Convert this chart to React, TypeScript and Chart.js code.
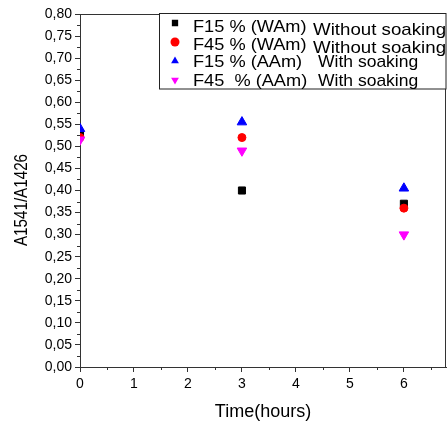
import React, { useEffect, useRef } from 'react';
import { Chart, registerables } from 'chart.js';
Chart.register(...registerables);

const timePoints = [0, 3, 6];
const f15WAm = [0.53, 0.40, 0.37];
const f45WAm = [0.52, 0.52, 0.36];
const f15AAm = [0.54, 0.555, 0.405];
const f45AAm = [0.515, 0.49, 0.30];
const legendMain = ['F15 % (WAm)', 'F45 % (WAm)', 'F15 % (AAm)', 'F45  % (AAm)'];
const legendSub = ['Without soaking', 'Without soaking', 'With soaking', 'With soaking'];
const yTitle = 'A1541/A1426';
const xTitle = 'Time(hours)';
const seriesColors = ['#000000', '#ff0000', '#0000ff', '#ff00ff'];
const seriesStyles = ['rect', 'circle', 'triangle', 'triangle'];
const seriesRot = [0, 0, 0, 180];
const seriesRadius = [5, 4, 5.5, 5.5];

const FONT = '"Liberation Sans", Arial, sans-serif';

const toPts = (ys: number[]) => timePoints.map((x, i) => ({ x, y: ys[i] }));

function marker(ctx: CanvasRenderingContext2D, i: number, x: number, y: number, r: number) {
  ctx.fillStyle = seriesColors[i];
  ctx.beginPath();
  if (i === 0) {
    ctx.rect(x - r * 0.7, y - r * 0.7, r * 1.4, r * 1.4);
  } else if (i === 1) {
    ctx.arc(x, y, r, 0, Math.PI * 2);
  } else if (i === 2) {
    ctx.moveTo(x, y - r);
    ctx.lineTo(x + r * 0.866, y + r * 0.5);
    ctx.lineTo(x - r * 0.866, y + r * 0.5);
    ctx.closePath();
  } else {
    ctx.moveTo(x, y + r);
    ctx.lineTo(x + r * 0.866, y - r * 0.5);
    ctx.lineTo(x - r * 0.866, y - r * 0.5);
    ctx.closePath();
  }
  ctx.fill();
}

function stretchedText(ctx: CanvasRenderingContext2D, text: string, x: number, y: number, sx: number) {
  ctx.save();
  ctx.translate(x, y);
  ctx.scale(sx, 1);
  ctx.fillText(text, 0, 0);
  ctx.restore();
}

const framePlugin = {
  id: 'frameAndLegend',
  afterDraw(chart: any) {
    const ctx = chart.ctx;
    const { left, right, top, bottom } = chart.chartArea;
    const xs = chart.scales.x;
    const ys = chart.scales.y;
    ctx.save();
    ctx.strokeStyle = '#333';
    ctx.lineWidth = 1;
    ctx.beginPath();
    ctx.moveTo(left, top + 0.5);
    ctx.lineTo(right - 0.5, top + 0.5);
    ctx.lineTo(right - 0.5, bottom);
    ctx.stroke();
    ctx.beginPath();
    for (let k = 0; k < 16; k++) {
      const v = 0.025 + 0.05 * k;
      const py = Math.round(ys.getPixelForValue(v)) + 0.5;
      ctx.moveTo(left - 3, py);
      ctx.lineTo(left, py);
    }
    for (let k = 0; k < 7; k++) {
      const v = 0.5 + k;
      const px = Math.round(xs.getPixelForValue(v)) + 0.5;
      ctx.moveTo(px, bottom);
      ctx.lineTo(px, bottom + 3);
    }
    ctx.stroke();

    ctx.save();
    ctx.fillStyle = '#000';
    ctx.font = `16px ${FONT}`;
    ctx.textAlign = 'center';
    ctx.textBaseline = 'middle';
    ctx.translate(22, 200);
    ctx.rotate(-Math.PI / 2);
    ctx.scale(0.95, 1.2);
    ctx.fillText(yTitle, 0, 0);
    ctx.restore();

    const bx = 159.5, by = 13.5, bw = 446 - 159.5, bh = 89 - 13.5;
    ctx.fillStyle = '#fff';
    ctx.fillRect(bx, by, bw, bh);
    ctx.strokeStyle = '#222';
    ctx.strokeRect(bx, by, bw, bh);
    const rowsY = [23, 42, 61, 80];
    const mainBase = [32, 50, 67, 86];
    const subBase = [35, 53, 67, 86];
    const subX = [313, 313, 318, 318];
    const subScale = [1.1, 1.1, 1.03, 1.03];
    ctx.beginPath();
    ctx.rect(bx, by, bw, bh);
    ctx.clip();
    for (let i = 0; i < 4; i++) {
      marker(ctx, i, 175, rowsY[i], 4.5);
      ctx.fillStyle = '#000';
      ctx.font = `17px ${FONT}`;
      ctx.textBaseline = 'alphabetic';
      ctx.textAlign = 'left';
      stretchedText(ctx, legendMain[i], 193, mainBase[i], 1.07);
      stretchedText(ctx, legendSub[i], subX[i], subBase[i], subScale[i]);
    }
    ctx.restore();
  },
};

export default function App() {
  const ref = useRef<HTMLCanvasElement>(null);
  useEffect(() => {
    if (!ref.current) return;
    const datasets = [f15WAm, f45WAm, f15AAm, f45AAm].map((ys, i) => ({
      label: legendMain[i] + ' ' + legendSub[i],
      data: toPts(ys),
      showLine: false,
      pointStyle: seriesStyles[i] as any,
      rotation: seriesRot[i],
      pointRadius: seriesRadius[i],
      pointBackgroundColor: seriesColors[i],
      pointBorderColor: seriesColors[i],
      pointBorderWidth: 1,
      order: 4 - i,
    }));
    const chart = new Chart(ref.current, {
      type: 'scatter',
      data: { datasets },
      plugins: [framePlugin],
      options: {
        animation: false,
        responsive: false,
        layout: { autoPadding: false, padding: { top: 14, right: 2, left: 0, bottom: 0 } },
        plugins: { legend: { display: false }, tooltip: { enabled: false } },
        scales: {
          x: {
            type: 'linear',
            min: 0,
            max: 6.78,
            afterFit: (s: any) => { s.height = 56; s.paddingRight = 0; s.paddingLeft = 0; },
            afterBuildTicks: (s: any) => { s.ticks = s.ticks.filter((t: any) => Number.isInteger(t.value)); },
            ticks: { stepSize: 1, includeBounds: false, color: '#000', font: { family: FONT, size: 14 }, padding: 4, maxRotation: 0 },
            grid: { drawOnChartArea: false, drawTicks: true, tickLength: 5, color: '#333' },
            border: { color: '#333', width: 1 },
            title: { display: true, text: xTitle, color: '#000', font: { family: FONT, size: 18 }, padding: { top: 6, bottom: 0 } },
          },
          y: {
            type: 'linear',
            min: 0,
            max: 0.8,
            afterFit: (s: any) => { s.width = 80; },
            ticks: {
              stepSize: 0.05,
              autoSkip: false,
              color: '#000',
              font: { family: FONT, size: 14 },
              padding: 3,
              callback: (v: any) => Number(v).toFixed(2).replace('.', ','),
            },
            grid: { drawOnChartArea: false, drawTicks: true, tickLength: 5, color: '#333' },
            border: { color: '#333', width: 1 },
            title: { display: false },
          },
        },
      },
    });
    return () => chart.destroy();
  }, []);
  return (
    <div style={{ position: 'absolute', left: 0, top: 0, width: 448, height: 423, background: '#fff' }}>
      <canvas ref={ref} width={448} height={423} />
    </div>
  );
}
